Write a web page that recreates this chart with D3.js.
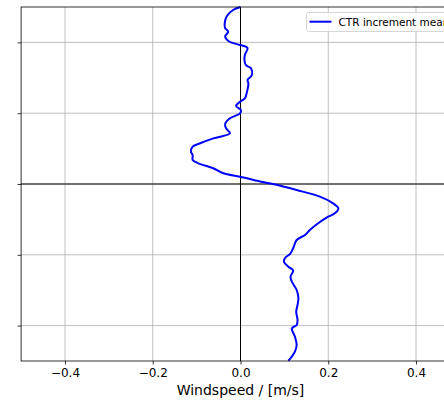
<!DOCTYPE html>
<html>
<head>
<meta charset="utf-8">
<script src="https://cdn.jsdelivr.net/npm/d3@7"></script>
<style>
  body { margin: 0; background: #fff; }
  svg { display: block; overflow: hidden; }
</style>
</head>
<body>
<script>
// profile of the CTR increment mean, windspeed vs level

let w = 444
let h = 400

// windspeed values, top to bottom
let windspeed = [
  0.000, -0.017, -0.031, -0.036, -0.035, -0.028, -0.035, -0.026, -0.001, 0.016,
  0.010, 0.009, 0.012, 0.024, 0.026, 0.016, 0.018, 0.014, 0.010, -0.001,
  -0.010, 0.001, -0.001, -0.024, -0.035, -0.033, -0.024, -0.062, -0.092, -0.109,
  -0.113, -0.109, -0.109, -0.096, -0.062, -0.039, -0.001, 0.051, 0.074, 0.128,
  0.181, 0.211, 0.223, 0.215, 0.200, 0.177, 0.158, 0.147, 0.128, 0.120,
  0.114, 0.101, 0.099, 0.109, 0.120, 0.114, 0.117, 0.128, 0.132, 0.130,
  0.127, 0.130, 0.128, 0.117, 0.124, 0.128, 0.124, 0.117, 0.109
]
// matching vertical positions
let level = [
  2.500, 2.458, 2.373, 2.274, 2.203, 2.151, 2.083, 2.013, 1.963, 1.921,
  1.822, 1.751, 1.681, 1.634, 1.540, 1.469, 1.422, 1.281, 1.210, 1.162,
  1.102, 1.045, 0.999, 0.928, 0.847, 0.787, 0.716, 0.645, 0.575, 0.527,
  0.456, 0.410, 0.339, 0.292, 0.222, 0.151, 0.103, 0.028, 0.000, -0.085,
  -0.179, -0.273, -0.343, -0.414, -0.462, -0.555, -0.650, -0.720, -0.791, -0.908,
  -0.979, -1.049, -1.097, -1.168, -1.222, -1.309, -1.380, -1.497, -1.614, -1.709,
  -1.804, -1.921, -1.992, -2.038, -2.157, -2.274, -2.369, -2.439, -2.496
]

let xTicks = [-0.4, -0.2, 0.0, 0.2, 0.4]
let yTicks = [-2, -1, 0, 1, 2]
let seriesName = "CTR increment mean"

let pLeft = 21.1, pTop = 7, pRight = 459.9, pBottom = 361

let x = d3.scaleLinear().domain([-0.5, 0.5]).range([pLeft, pRight])
let y = d3.scaleLinear().domain([-2.5, 2.5]).range([pBottom, pTop])

let svg = d3.select("body")
    .append("svg")
    .attr("width", w)
    .attr("height", h)
    .attr("font-family", "DejaVu Sans, sans-serif")

// grid
svg.selectAll("line.vgrid")
    .data(xTicks)
    .enter()
    .append("line")
    .attr("class", "vgrid")
    .attr("x1", d => x(d)).attr("x2", d => x(d))
    .attr("y1", pTop).attr("y2", pBottom)
    .attr("stroke", "#b0b0b0")
    .attr("stroke-width", 0.8)

svg.selectAll("line.hgrid")
    .data(yTicks)
    .enter()
    .append("line")
    .attr("class", "hgrid")
    .attr("x1", pLeft).attr("x2", pRight)
    .attr("y1", d => y(d)).attr("y2", d => y(d))
    .attr("stroke", "#b0b0b0")
    .attr("stroke-width", 0.8)

// zero lines
svg.append("line")
    .attr("x1", x(0)).attr("x2", x(0))
    .attr("y1", pTop).attr("y2", pBottom)
    .attr("stroke", "#000").attr("stroke-width", 1)
svg.append("line")
    .attr("x1", pLeft).attr("x2", pRight)
    .attr("y1", y(0)).attr("y2", y(0))
    .attr("stroke", "#000").attr("stroke-width", 1)

// profile line
let points = windspeed.map((v, i) => [v, level[i]])
let line = d3.line()
    .x(d => x(d[0]))
    .y(d => y(d[1]))
    .curve(d3.curveCatmullRom)

svg.append("path")
    .datum(points)
    .attr("d", line)
    .attr("fill", "none")
    .attr("stroke", "#0000ff")
    .attr("stroke-width", 2)

// axes (y tick labels sit off the left edge in the original, so none shown)
let xAxis = svg.append("g")
    .attr("transform", `translate(0,${pBottom})`)
    .call(d3.axisBottom(x).tickValues(xTicks).tickFormat(d3.format(".1f")).tickSize(3.5).tickPadding(3.5))
let yAxis = svg.append("g")
    .attr("transform", `translate(${pLeft},0)`)
    .call(d3.axisLeft(y).tickValues(yTicks).tickFormat("").tickSize(3.5))

;[xAxis, yAxis].forEach(a => {
  a.selectAll("text").attr("font-size", "12px").attr("fill", "#000")
      .attr("font-family", "DejaVu Sans, sans-serif")
  a.selectAll("line").attr("stroke", "#000").attr("stroke-width", 0.8)
  a.select(".domain").remove()
})

// frame
svg.append("rect")
    .attr("x", pLeft).attr("y", pTop)
    .attr("width", pRight - pLeft).attr("height", pBottom - pTop)
    .attr("fill", "none")
    .attr("stroke", "#000")
    .attr("stroke-width", 0.8)

svg.append("text")
    .attr("x", x(0))
    .attr("y", 395)
    .attr("text-anchor", "middle")
    .attr("font-size", "14px")
    .text("Windspeed / [m/s]")

// legend
let lg = svg.append("g").attr("transform", "translate(306.5,12.5)")
lg.append("rect")
    .attr("width", 160).attr("height", 19)
    .attr("rx", 2)
    .attr("fill", "#fff").attr("fill-opacity", 0.8)
    .attr("stroke", "#d6d6d6")
lg.append("line")
    .attr("x1", 3).attr("x2", 25)
    .attr("y1", 9.2).attr("y2", 9.2)
    .attr("stroke", "#0000ff").attr("stroke-width", 2)
lg.append("text")
    .attr("x", 32).attr("y", 13)
    .attr("font-size", "10.5px")
    .text(seriesName)
</script>
</body>
</html>
